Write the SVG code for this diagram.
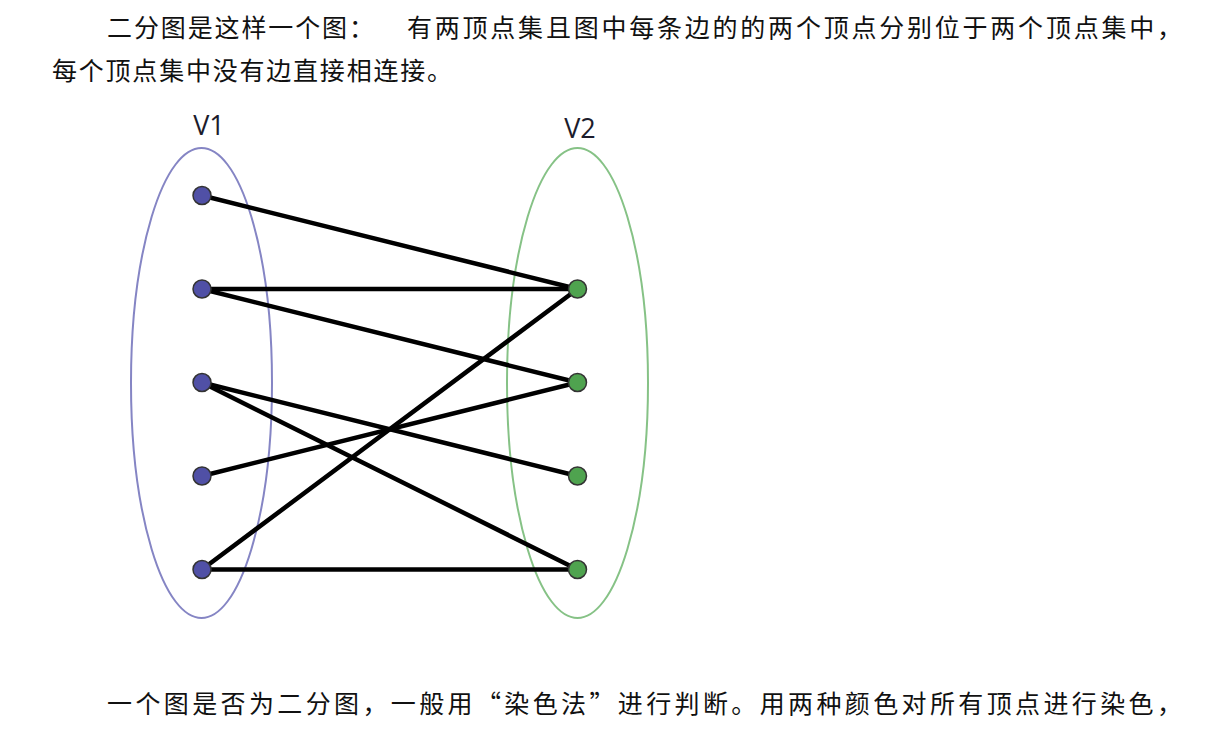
<svg xmlns="http://www.w3.org/2000/svg" width="1223" height="732" viewBox="0 0 1223 732">
<style>
.cn{font-family:"Noto Sans CJK SC","Liberation Serif",serif;font-size:25px;fill:#111}
.lbl{font-family:"Open Sans","Liberation Sans",sans-serif;font-size:27px;fill:#1c1c2c;text-anchor:middle}
.set1{fill:none;stroke:#8585c4;stroke-width:2}
.set2{fill:none;stroke:#86c286;stroke-width:2}
.edge{stroke:#000;stroke-width:4.5;stroke-linecap:round}
.n1{fill:#5050a6;stroke:#333;stroke-width:1.5}
.n2{fill:#4fa34f;stroke:#333;stroke-width:1.5}
</style>
<rect width="1223" height="732" fill="#fff"/>
<g id="text-top">
<text class="cn" x="107" y="37" textLength="267" lengthAdjust="spacing">二分图是这样一个图：</text>
<text class="cn" x="407" y="37" textLength="775" lengthAdjust="spacing">有两顶点集且图中每条边的的两个顶点分别位于两个顶点集中，</text>
<text class="cn" x="52" y="80" textLength="400" lengthAdjust="spacing">每个顶点集中没有边直接相连接。</text>
</g>
<g id="set-V1">
<ellipse class="set1" cx="201.5" cy="383" rx="70.5" ry="235"/>
<text class="lbl" x="209" y="135">V1</text>
</g>
<g id="set-V2">
<ellipse class="set2" cx="577.5" cy="383" rx="70.5" ry="235"/>
<text class="lbl" x="580" y="138">V2</text>
</g>
<g id="edges">
<line class="edge" x1="202" y1="195.5" x2="577.5" y2="289"/>
<line class="edge" x1="202" y1="289" x2="577.5" y2="289"/>
<line class="edge" x1="202" y1="289" x2="577.5" y2="382.5"/>
<line class="edge" x1="202" y1="382.5" x2="577.5" y2="476"/>
<line class="edge" x1="202" y1="382.5" x2="577.5" y2="569.5"/>
<line class="edge" x1="202" y1="476" x2="577.5" y2="382.5"/>
<line class="edge" x1="202" y1="569.5" x2="577.5" y2="289"/>
<line class="edge" x1="202" y1="569.5" x2="577.5" y2="569.5"/>
</g>
<g id="a1"><circle class="n1" cx="202" cy="195.5" r="9"/></g>
<g id="a2"><circle class="n1" cx="202" cy="289" r="9"/></g>
<g id="a3"><circle class="n1" cx="202" cy="382.5" r="9"/></g>
<g id="a4"><circle class="n1" cx="202" cy="476" r="9"/></g>
<g id="a5"><circle class="n1" cx="202" cy="569.5" r="9"/></g>
<g id="b1"><circle class="n2" cx="577.5" cy="289" r="9"/></g>
<g id="b2"><circle class="n2" cx="577.5" cy="382.5" r="9"/></g>
<g id="b3"><circle class="n2" cx="577.5" cy="476" r="9"/></g>
<g id="b4"><circle class="n2" cx="577.5" cy="569.5" r="9"/></g>
<g id="text-bottom">
<text class="cn" x="107" y="713" textLength="1075" lengthAdjust="spacing">一个图是否为二分图，一般用“染色法”进行判断。用两种颜色对所有顶点进行染色，</text>
</g>
</svg>
